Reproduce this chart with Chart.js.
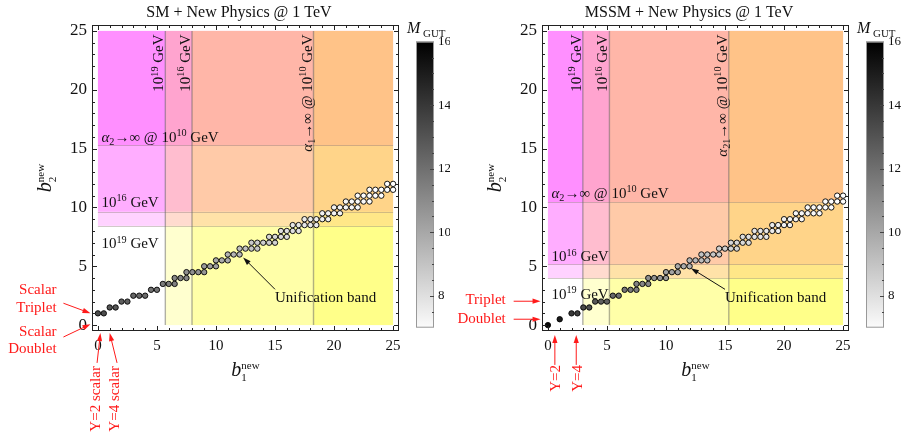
<!DOCTYPE html>
<html lang="en">
<head>
<meta charset="UTF-8">
<title>Unification band - SM / MSSM + New Physics</title>
<script src="https://cdn.jsdelivr.net/npm/chart.js"></script>
<style>
  html, body { margin: 0; padding: 0; background: #fff; }
  #wrap { position: relative; width: 901px; height: 439px; overflow: hidden; }
  canvas { position: absolute; top: 0; }
  #smChart { left: 0; }
  #mssmChart { left: 450px; }
</style>
</head>
<body>
<div id="wrap">
  <canvas id="smChart" width="450" height="439"></canvas>
  <canvas id="mssmChart" width="451" height="439"></canvas>
</div>
<script>
// ---------- data ----------
const axisTicks = [0, 5, 10, 15, 20, 25];
const cbTicks = [8, 10, 12, 14, 16];
const mGutRange = [7, 16];
const regionMax = 25;

// SM + new physics: points of the unification band (b1new, b2new, log10 M_GUT)
const smB1 = [0, 0.5, 1, 1.5, 2, 2.5, 3, 3.5, 4, 4.5, 5, 5.5, 6, 6.5, 6.5, 7, 7.5, 7.5, 8, 8.5,
  9, 9, 9.5, 10, 10, 10.5, 11, 11, 11.5, 12, 12, 12.5, 13, 13, 13.5, 13.5, 14, 14.5, 14.5, 15,
  15, 15.5, 15.5, 16, 16, 16.5, 16.5, 17, 17, 17.5, 17.5, 18, 18, 18.5, 18.5, 19, 19, 19.5, 19.5, 20,
  20, 20.5, 20.5, 21, 21, 21.5, 21.5, 22, 22, 22, 22.5, 22.5, 23, 23, 23, 23.5, 23.5, 24, 24, 24.5,
  24.5, 25, 25];
const smB2 = [1, 1, 1.5, 1.5, 2, 2, 2.5, 2.5, 2.5, 3, 3, 3.5, 3.5, 3.5, 4, 4, 4, 4.5, 4.5, 4.5,
  4.5, 5, 5, 5, 5.5, 5.5, 5.5, 6, 6, 6, 6.5, 6.5, 6.5, 7, 6.5, 7, 7, 7, 7.5, 7,
  7.5, 7.5, 8, 7.5, 8, 8, 8.5, 8, 8.5, 8.5, 9, 8.5, 9, 8.5, 9, 9, 9.5, 9, 9.5, 9.5,
  10, 9.5, 10, 10, 10.5, 10, 10.5, 10, 10.5, 11, 10.5, 11, 10.5, 11, 11.5, 11, 11.5, 11, 11.5, 11.5,
  12, 11.5, 12];
const smMgut = [13.4, 13.3, 13.0, 12.9, 12.7, 12.6, 12.4, 12.3, 12.2, 12.0, 11.9, 11.7, 11.6, 11.5, 11.3, 11.3, 11.2, 11.0, 11.0, 10.8,
  10.7, 10.5, 10.4, 10.3, 10.1, 10.0, 9.9, 9.7, 9.6, 9.5, 9.3, 9.2, 9.1, 8.9, 9.0, 8.8, 8.7, 8.7, 8.5, 8.6,
  8.4, 8.3, 8.2, 8.2, 8.1, 8.1, 7.9, 8.0, 7.9, 7.8, 7.7, 7.8, 7.7, 7.7, 7.6, 7.6, 7.5, 7.5, 7.5, 7.4,
  7.4, 7.4, 7.3, 7.3, 7.3, 7.3, 7.2, 7.2, 7.2, 7.2, 7.2, 7.1, 7.1, 7.1, 7.1, 7.1, 7.0, 7.0, 7.0, 7.0,
  7.0, 7.0, 7.0];
const smVLines = [5.71, 7.97, 18.26];   // 10^19 GeV, 10^16 GeV, alpha1 -> inf
const smHLines = [8.43, 9.64, 15.27];   // 10^19 GeV, 10^16 GeV, alpha2 -> inf

// MSSM + new physics
const mssmB1 = [0, 1, 2, 2.5, 3, 3.5, 4, 4.5, 5, 5.5, 6, 6.5, 7, 7.5, 7.5, 8, 8.5, 8.5, 9, 9.5,
  10, 10, 10.5, 11, 11, 11.5, 12, 12, 12.5, 13, 13, 13.5, 13.5, 14, 14.5, 14.5, 15, 15.5, 15.5, 16,
  16, 16.5, 16.5, 17, 17, 17.5, 17.5, 18, 18, 18.5, 18.5, 19, 19, 19.5, 19.5, 20, 20, 20.5, 20.5, 21,
  21, 21.5, 21.5, 22, 22, 22.5, 22.5, 23, 23, 23.5, 23.5, 24, 24, 24.5, 24.5, 25, 25];
const mssmB2 = [0, 0.5, 1, 1, 1.5, 1.5, 2, 2, 2, 2.5, 2.5, 3, 3, 3, 3.5, 3.5, 3.5, 4, 4, 4,
  4, 4.5, 4.5, 4.5, 5, 5, 5, 5.5, 5.5, 5.5, 6, 5.5, 6, 6, 6, 6.5, 6.5, 6.5, 7, 6.5,
  7, 7, 7.5, 7, 7.5, 7.5, 8, 7.5, 8, 7.5, 8, 8, 8.5, 8, 8.5, 8.5, 9, 8.5, 9, 9,
  9.5, 9, 9.5, 9.5, 10, 9.5, 10, 9.5, 10, 10, 10.5, 10, 10.5, 10.5, 11, 10.5, 11];
const mssmMgut = [15.6, 15.0, 14.0, 13.8, 13.4, 13.2, 12.9, 12.7, 12.6, 12.3, 12.1, 11.9, 11.7, 11.6, 11.4, 11.3, 11.2, 11.0, 10.9, 10.7,
  10.6, 10.4, 10.3, 10.2, 10.0, 9.9, 9.8, 9.6, 9.5, 9.4, 9.2, 9.3, 9.1, 9.0, 8.9, 8.7, 8.7, 8.6, 8.4, 8.5,
  8.4, 8.3, 8.2, 8.2, 8.1, 8.0, 7.9, 7.9, 7.9, 7.9, 7.8, 7.7, 7.7, 7.6, 7.6, 7.5, 7.5, 7.5, 7.4, 7.4,
  7.3, 7.3, 7.3, 7.3, 7.2, 7.2, 7.2, 7.2, 7.1, 7.1, 7.1, 7.1, 7.0, 7.0, 7.0, 7.0, 7.0];
const mssmVLines = [2.96, 5.21, 15.32];  // 10^19 GeV, 10^16 GeV, alpha21 -> inf
const mssmHLines = [4.0, 5.16, 10.46];   // 10^19 GeV, 10^16 GeV, alpha2 -> inf

// ---------- helpers ----------
const SERIF = "'Liberation Serif', 'Times New Roman', serif";
const RED = '#ff1a1a';

function N(t) { return { t: t }; }
function I(t) { return { t: t, it: true }; }
function SUP(t) { return { t: t, k: 0.68, dy: -0.38 }; }
function SUB(t) { return { t: t, k: 0.68, dy: 0.22 }; }

function partFont(p, size) {
  return (p.it ? 'italic ' : '') + (size * (p.k || 1)).toFixed(1) + 'px ' + SERIF;
}
function partWidth(ctx, p, size) {
  if (p.stack) {
    ctx.font = partFont({ k: p.k }, size);
    return Math.max(ctx.measureText(p.stack[0]).width, ctx.measureText(p.stack[1]).width);
  }
  ctx.font = partFont(p, size);
  return ctx.measureText(p.t).width;
}
function drawRich(ctx, parts, x, y, size, color, align, angle) {
  ctx.save();
  ctx.translate(x, y);
  if (angle) ctx.rotate(angle);
  let w = 0;
  parts.forEach(p => { w += partWidth(ctx, p, size); });
  let cx = align === 'center' ? -w / 2 : align === 'right' ? -w : 0;
  ctx.fillStyle = color;
  ctx.textAlign = 'left';
  ctx.textBaseline = 'alphabetic';
  parts.forEach(p => {
    const pw = partWidth(ctx, p, size);
    if (p.stack) {
      ctx.font = partFont({ k: p.k }, size);
      ctx.fillText(p.stack[0], cx, -0.36 * size);
      ctx.fillText(p.stack[1], cx, 0.26 * size);
    } else {
      ctx.font = partFont(p, size);
      ctx.fillText(p.t, cx, (p.dy || 0) * size);
    }
    cx += pw;
  });
  ctx.restore();
}
function arrow(ctx, x1, y1, x2, y2, color) {
  const ang = Math.atan2(y2 - y1, x2 - x1), L = 8, H = 2.6;
  ctx.save();
  ctx.strokeStyle = color; ctx.fillStyle = color; ctx.lineWidth = 1;
  ctx.beginPath();
  ctx.moveTo(x1, y1);
  ctx.lineTo(x2 - Math.cos(ang) * L * 0.8, y2 - Math.sin(ang) * L * 0.8);
  ctx.stroke();
  ctx.beginPath();
  ctx.moveTo(x2, y2);
  ctx.lineTo(x2 - Math.cos(ang) * L - Math.sin(ang) * H, y2 - Math.sin(ang) * L + Math.cos(ang) * H);
  ctx.lineTo(x2 - Math.cos(ang) * L + Math.sin(ang) * H, y2 - Math.sin(ang) * L - Math.cos(ang) * H);
  ctx.closePath();
  ctx.fill();
  ctx.restore();
}
function grayFor(m) {
  const t = Math.min(1, Math.max(0, (mGutRange[1] - m) / (mGutRange[1] - mGutRange[0])));
  const g = Math.round(255 * t);
  return 'rgb(' + g + ',' + g + ',' + g + ')';
}

// ---------- panel plugin ----------
function panelPlugin(o) {
  return {
    id: 'panel_' + o.key,
    beforeDatasetsDraw(chart) {
      const { ctx, scales: { x, y } } = chart;
      const X0 = x.getPixelForValue(0), X1 = x.getPixelForValue(regionMax);
      const Y0 = y.getPixelForValue(0), Y1 = y.getPixelForValue(regionMax);
      ctx.save();
      // excluded regions: translucent layers
      o.hLines.forEach(h => {
        const yy = y.getPixelForValue(h);
        ctx.fillStyle = 'rgba(255,0,255,0.175)';
        ctx.fillRect(X0, Y1, X1 - X0, yy - Y1);
      });
      o.vLines.forEach(v => {
        const xx = x.getPixelForValue(v);
        ctx.fillStyle = 'rgba(255,255,0,0.19)';
        ctx.fillRect(xx, Y1, X1 - xx, Y0 - Y1);
      });
      // boundary lines
      ctx.lineWidth = 1;
      ctx.strokeStyle = 'rgba(140,120,120,0.4)';
      o.hLines.forEach(h => {
        const yy = Math.round(y.getPixelForValue(h)) + 0.5;
        ctx.beginPath(); ctx.moveTo(X0, yy); ctx.lineTo(X1, yy); ctx.stroke();
      });
      ctx.lineWidth = 1.4;
      ctx.strokeStyle = 'rgba(100,100,100,0.5)';
      o.vLines.forEach(v => {
        const xx = x.getPixelForValue(v);
        ctx.beginPath(); ctx.moveTo(xx, Y0); ctx.lineTo(xx, Y1); ctx.stroke();
      });
      ctx.restore();
      // labels of the regions
      o.vLabels.forEach((lab, i) => {
        drawRich(ctx, lab, x.getPixelForValue(o.vLines[i]) - 2, y.getPixelForValue(24.7), 15, '#111', 'right', -Math.PI / 2);
      });
      o.hLabels.forEach(lab => {
        drawRich(ctx, lab.parts, x.getPixelForValue(lab.x), y.getPixelForValue(lab.y), 15, '#111', 'left');
      });
    },
    afterDatasetsDraw(chart) {
      const { ctx, chartArea: a, scales: { x, y } } = chart;
      // frame with inward ticks
      ctx.save();
      ctx.strokeStyle = '#222';
      ctx.lineWidth = 1;
      ctx.strokeRect(a.left + 0.5, a.top + 0.5, a.right - a.left - 1, a.bottom - a.top - 1);
      ctx.beginPath();
      for (let v = axisTicks[0]; v <= axisTicks[axisTicks.length - 1]; v++) {
        const L = axisTicks.includes(v) ? 5 : 3;
        const X = Math.round(x.getPixelForValue(v)) + 0.5;
        ctx.moveTo(X, a.bottom); ctx.lineTo(X, a.bottom - L);
        ctx.moveTo(X, a.top); ctx.lineTo(X, a.top + L);
        const Y = Math.round(y.getPixelForValue(v)) + 0.5;
        ctx.moveTo(a.left, Y); ctx.lineTo(a.left + L, Y);
        ctx.moveTo(a.right, Y); ctx.lineTo(a.right - L, Y);
      }
      ctx.stroke();
      ctx.restore();

      // unification band label + arrow
      const b = o.band;
      drawRich(ctx, [N('Unification band')], x.getPixelForValue(b.tx), y.getPixelForValue(b.ty), 15, '#111', 'left');
      arrow(ctx, x.getPixelForValue(b.from[0]), y.getPixelForValue(b.from[1]),
        x.getPixelForValue(b.to[0]), y.getPixelForValue(b.to[1]), '#111');

      // red annotations outside the frame
      o.red.texts.forEach(t => {
        drawRich(ctx, [N(t.s)], x.getPixelForValue(t.x), y.getPixelForValue(t.y), 15, RED,
          t.rot ? 'left' : 'right', t.rot ? -Math.PI / 2 : 0);
      });
      o.red.arrows.forEach(r => {
        arrow(ctx, x.getPixelForValue(r[0]), y.getPixelForValue(r[1]), x.getPixelForValue(r[2]), y.getPixelForValue(r[3]), RED);
      });

      // axis titles
      drawRich(ctx, [I('b'), { stack: ['new', '1'], k: 0.55 }], (a.left + a.right) / 2, a.bottom + 45, 20, '#111', 'center');
      drawRich(ctx, [I('b'), { stack: ['new', '2'], k: 0.55 }], a.left - 41, (a.top + a.bottom) / 2, 20, '#111', 'center', -Math.PI / 2);

      // plot title
      drawRich(ctx, [N(o.title)], x.getPixelForValue(11.95), 17, 16, '#111', 'center');

      // colour bar for M_GUT
      const cbL = a.right + 17, cbR = a.right + 35, cbT = 41.7, cbB = 327.7;
      const cbY = v => cbB - (v - mGutRange[0]) / (mGutRange[1] - mGutRange[0]) * (cbB - cbT);
      const g = ctx.createLinearGradient(0, cbB, 0, cbT);
      g.addColorStop(0, '#fbfbfb');
      g.addColorStop(1, '#000');
      ctx.save();
      ctx.fillStyle = g;
      ctx.fillRect(cbL, cbT, cbR - cbL, cbB - cbT);
      ctx.strokeStyle = '#999';
      ctx.lineWidth = 1;
      ctx.strokeRect(cbL + 0.5, cbT + 0.5, cbR - cbL - 1, cbB - cbT - 1);
      ctx.strokeStyle = '#444';
      ctx.beginPath();
      for (let v = mGutRange[0] + 0.5; v < mGutRange[1]; v += 0.5) {
        const L = cbTicks.includes(v) ? 4 : 2;
        const Y = Math.round(cbY(v)) + 0.5;
        ctx.moveTo(cbR, Y); ctx.lineTo(cbR - L, Y);
      }
      ctx.stroke();
      ctx.fillStyle = '#111';
      ctx.font = '13px ' + SERIF;
      ctx.textAlign = 'left';
      ctx.textBaseline = 'middle';
      cbTicks.forEach(v => ctx.fillText(String(v), cbR + 4, cbY(v)));
      ctx.restore();
      drawRich(ctx, [I('M'), SUB(' GUT')], cbL - 9, 33, 16, '#111', 'left');
    }
  };
}

function makePanel(id, o) {
  const el = document.getElementById(id);
  const W = el.width;
  return new Chart(el, {
    type: 'scatter',
    data: {
      datasets: [{
        data: o.b1.map((v, i) => ({ x: v, y: o.b2[i] })),
        backgroundColor: o.m.map(grayFor),
        borderColor: '#000',
        borderWidth: 0.9,
        pointRadius: 2.7,
        pointHoverRadius: 2.7
      }]
    },
    options: {
      responsive: false,
      animation: false,
      events: [],
      layout: { padding: { left: 0, top: 25, right: W - 399, bottom: 78 } },
      plugins: { legend: { display: false }, tooltip: { enabled: false } },
      scales: {
        x: {
          type: 'linear', min: -0.5, max: 25.5,
          grid: { display: false, drawTicks: false },
          border: { display: false },
          afterBuildTicks: s => { s.ticks = axisTicks.map(v => ({ value: v })); },
          afterFit: s => { s.height = 30; },
          ticks: { autoSkip: false, maxRotation: 0, padding: 6, color: '#111', font: { family: SERIF, size: 15 } }
        },
        y: {
          type: 'linear', min: -0.5, max: 25.5,
          grid: { display: false, drawTicks: false },
          border: { display: false },
          afterBuildTicks: s => { s.ticks = axisTicks.map(v => ({ value: v })); },
          afterFit: s => { s.width = 92; },
          ticks: { autoSkip: false, padding: 5, color: '#111', font: { family: SERIF, size: 17 } }
        }
      }
    },
    plugins: [panelPlugin(o)]
  });
}

const gev = e => [N('10'), SUP(e), N(' GeV')];

makePanel('smChart', {
  key: 'sm', title: 'SM + New Physics @ 1 TeV',
  b1: smB1, b2: smB2, m: smMgut, vLines: smVLines, hLines: smHLines,
  vLabels: [gev('19'), gev('16'), [I('α'), SUB('1'), N('→∞ @ 10'), SUP('10'), N(' GeV')]],
  hLabels: [
    { x: 0.3, y: 15.6, parts: [I('α'), SUB('2'), N('→∞ @ 10'), SUP('10'), N(' GeV')] },
    { x: 0.3, y: 10.05, parts: gev('16') },
    { x: 0.3, y: 6.53, parts: gev('19') }
  ],
  band: { tx: 15.0, ty: 1.97, from: [15.0, 3.04], to: [12.3, 5.75] },
  red: {
    texts: [
      { s: 'Scalar', x: -3.5, y: 2.62 }, { s: 'Triplet', x: -3.5, y: 1.12 },
      { s: 'Scalar', x: -3.5, y: -0.93 }, { s: 'Doublet', x: -3.5, y: -2.39 },
      { s: 'Y=2 scalar', x: 0.21, y: -9.05, rot: true }, { s: 'Y=4 scalar', x: 1.82, y: -9.05, rot: true }
    ],
    arrows: [[-2.92, 1.86, -0.63, 1.01], [-2.92, -1.01, -0.63, 0.08], [-0.07, -3.21, 0.21, -0.68], [1.62, -3.21, 1.0, -0.68]]
  }
});

makePanel('mssmChart', {
  key: 'mssm', title: 'MSSM + New Physics @ 1 TeV',
  b1: mssmB1, b2: mssmB2, m: mssmMgut, vLines: mssmVLines, hLines: mssmHLines,
  vLabels: [gev('19'), gev('16'), [I('α'), SUB('21'), N('→∞ @ 10'), SUP('10'), N(' GeV')]],
  hLabels: [
    { x: 0.3, y: 10.8, parts: [I('α'), SUB('2'), N('→∞ @ 10'), SUP('10'), N(' GeV')] },
    { x: 0.3, y: 5.41, parts: gev('16') },
    { x: 0.3, y: 2.26, parts: gev('19') }
  ],
  band: { tx: 15.0, ty: 1.97, from: [15.0, 3.04], to: [12.11, 4.84] },
  red: {
    texts: [
      { s: 'Triplet', x: -3.57, y: 1.78 }, { s: 'Doublet', x: -3.57, y: 0.19 },
      { s: 'Y=2', x: 1.02, y: -5.66, rot: true }, { s: 'Y=4', x: 2.85, y: -5.66, rot: true }
    ],
    arrows: [[-2.9, 2.03, -0.62, 2.03], [-2.9, 0.5, -0.62, 0.5], [0.59, -3.38, 0.59, -0.85], [2.4, -3.38, 2.4, -0.85]]
  }
});
</script>
</body>
</html>
